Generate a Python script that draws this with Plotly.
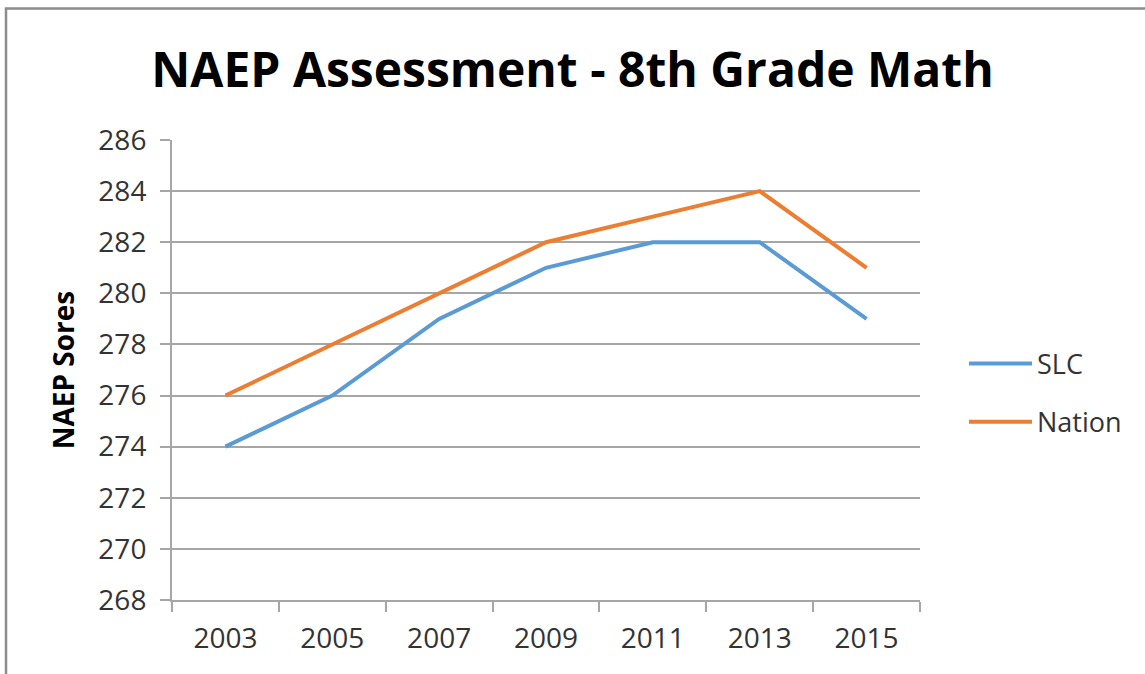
import plotly.graph_objects as go

years = ["2003", "2005", "2007", "2009", "2011", "2013", "2015"]
slc = [274, 276, 279, 281, 282, 282, 279]
nation = [276, 278, 280, 282, 283, 284, 281]

FONT = "Open Sans"
GRID = "#A6A6A6"
TXT = "#333333"

fig = go.Figure()
fig.add_trace(go.Scatter(x=years, y=slc, name="SLC", mode="lines",
                         line=dict(color="#5B9BD5", width=4), legendgroup="a"))
fig.add_trace(go.Scatter(x=years, y=nation, name="Nation", mode="lines",
                         line=dict(color="#ED7D31", width=4), legendgroup="b"))

fig.update_layout(
    width=1145, height=674,
    margin=dict(l=172, r=225, t=140, b=74),
    paper_bgcolor="white", plot_bgcolor="white",
    font=dict(family=FONT, color=TXT, size=27),
    title=dict(text="<b>NAEP Assessment - 8th Grade Math</b>",
               x=0.5, xanchor="center", y=1 - 70 / 674, yanchor="middle",
               font=dict(family=FONT, size=48, color="black")),
    showlegend=True,
    legend=dict(x=(964 - 172) / 748, xanchor="left", y=(600 - 393) / 460, yanchor="middle",
                font=dict(size=27, color=TXT), itemwidth=63,
                tracegroupgap=20, traceorder="grouped", bgcolor="rgba(0,0,0,0)"),
    xaxis=dict(type="category", tickson="boundaries", range=[-0.5, 6.5],
               ticks="outside", ticklen=10, ticklabelstandoff=12,
               tickcolor=GRID, tickwidth=2, showgrid=False, showline=True,
               linecolor=GRID, linewidth=2, tickfont=dict(size=28, color=TXT)),
    yaxis=dict(range=[268, 286], dtick=2, tick0=268, ticks="outside", ticklen=10,
               ticklabelstandoff=8,
               tickcolor=GRID, tickwidth=2, showgrid=True, gridcolor=GRID, gridwidth=2,
               showline=True, linecolor=GRID, linewidth=2, zeroline=False,
               tickfont=dict(size=28, color=TXT),
               title=dict(text="<b>NAEP Sores</b>", standoff=16,
                          font=dict(size=28, color="black"))),
    shapes=[dict(type="rect", xref="paper", yref="paper",
                 x0=(6 - 172) / 748, x1=(1160 - 172) / 748,
                 y0=(600 - 690) / 460, y1=(600 - 8.5) / 460,
                 line=dict(color="#8C8C8C", width=2.5), layer="below")],
)

fig.write_html("out.html", config={"displayModeBar": False},
               post_script="document.body.style.margin='0';document.body.style.padding='0';")
